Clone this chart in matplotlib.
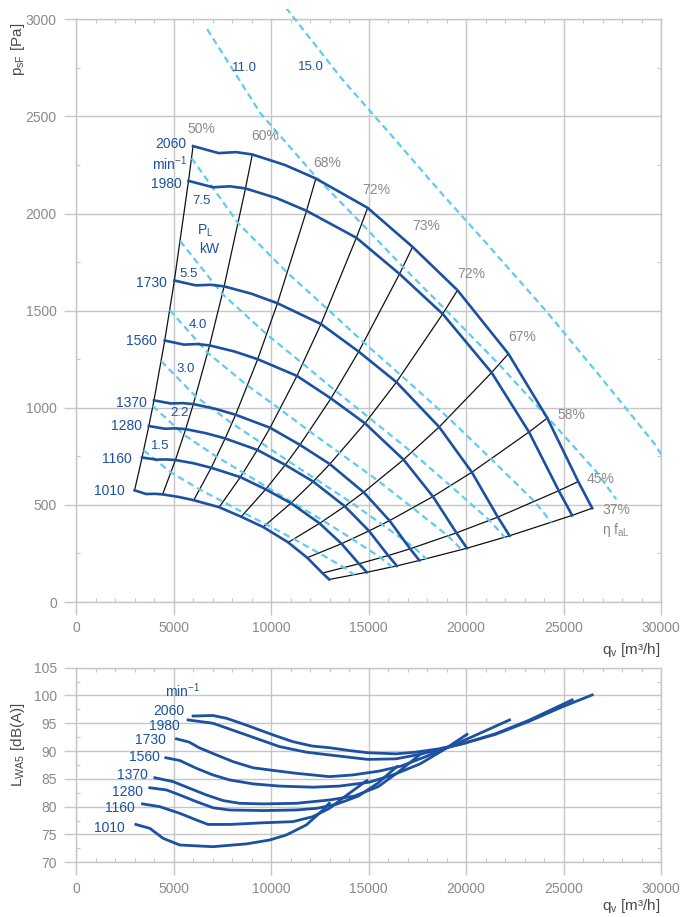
import matplotlib.pyplot as plt
from matplotlib.patches import Rectangle
from matplotlib.ticker import MultipleLocator

plt.rcParams['font.family'] = ['Liberation Sans', 'DejaVu Sans']
plt.rcParams['mathtext.fontset'] = 'custom'
plt.rcParams['mathtext.rm'] = 'Liberation Sans'
plt.rcParams['mathtext.it'] = 'Liberation Sans:italic'

# ---------------- data: fan curves (q in m3/h, p in Pa) ----------------
speeds = [2060, 1980, 1730, 1560, 1370, 1280, 1160, 1010]

q_2060 = [5990, 7300, 8200, 9030, 10700, 12290, 14950, 17254, 19558, 22170, 24166, 25754, 26470]
p_2060 = [2347, 2311, 2316, 2304, 2250, 2180, 2029, 1828, 1605, 1278, 947, 620, 483]
q_1980 = [5757, 7017, 7882, 8679, 10285, 11813, 14370, 16584, 18799, 21309, 23228, 24754, 25442]
p_1980 = [2168, 2135, 2140, 2129, 2079, 2014, 1875, 1689, 1483, 1181, 875, 573, 446]
q_1730 = [5031, 6131, 6886, 7584, 8986, 10321, 12555, 14490, 16425, 18619, 20295, 21629, 22230]
p_1730 = [1655, 1630, 1633, 1625, 1587, 1538, 1431, 1289, 1132, 901, 668, 437, 341]
q_1560 = [4536, 5528, 6210, 6838, 8103, 9307, 11321, 13066, 14811, 16789, 18300, 19503, 20045]
p_1560 = [1346, 1325, 1328, 1321, 1290, 1250, 1164, 1048, 920, 733, 543, 356, 277]
q_1370 = [3984, 4855, 5453, 6005, 7116, 8174, 9943, 11475, 13007, 14744, 16072, 17128, 17604]
p_1370 = [1038, 1022, 1024, 1019, 995, 964, 897, 809, 710, 565, 419, 274, 214]
q_1280 = [3722, 4536, 5095, 5611, 6649, 7637, 9289, 10721, 12153, 13776, 15016, 16003, 16447]
p_1280 = [906, 892, 894, 890, 869, 842, 783, 706, 620, 493, 366, 239, 186]
q_1160 = [3373, 4111, 4618, 5085, 6025, 6921, 8419, 9716, 11013, 12484, 13608, 14502, 14906]
p_1160 = [744, 733, 734, 731, 714, 691, 643, 580, 509, 405, 300, 197, 153]
q_1010 = [2990, 3579, 4020, 4427, 5246, 6026, 7330, 8460, 9589, 10870, 11848, 12627, 12978]
p_1010 = [575, 556, 557, 554, 541, 524, 488, 439, 386, 307, 228, 149, 116]

curves_q = [q_2060, q_1980, q_1730, q_1560, q_1370, q_1280, q_1160, q_1010]
curves_p = [p_2060, p_1980, p_1730, p_1560, p_1370, p_1280, p_1160, p_1010]

# points of the speed curves that lie on the efficiency lines
eff_idx = [0, 3, 5, 6, 7, 8, 9, 10, 11, 12]
eff_labels = ['50%', '60%', '68%', '72%', '73%', '72%', '67%', '58%', '45%', '37%']
eff_label_q = [6420, 9713, 12887, 15380, 17940, 20244, 22856, 25416, 26900, 27700]
eff_label_p = [2437, 2397, 2258, 2119, 1935, 1691, 1365, 964, 633, 474]

# iso-power lines P_L [kW]
pq_1_5 = [3456, 4858, 6337, 7538, 8627, 9750, 11165, 12453, 13750, 14257]
pp_1_5 = [781, 667, 579, 516, 457, 399, 324, 252, 177, 140]
pq_2_2 = [3927, 5520, 7199, 8565, 9802, 11072, 12679, 14149, 15622, 16200]
pp_2_2 = [1009, 861, 748, 666, 590, 514, 418, 325, 228, 181]
pq_3_0 = [4354, 6121, 7983, 9497, 10870, 12283, 14067, 15691, 17325, 17963]
pp_3_0 = [1240, 1059, 920, 819, 726, 633, 515, 399, 281, 222]
pq_4_0 = [4793, 6737, 8787, 10455, 11966, 13522, 15486, 17269, 19068, 19771]
pp_4_0 = [1503, 1283, 1114, 992, 879, 767, 624, 484, 340, 269]
pq_5_5 = [5329, 7491, 9771, 11623, 13303, 15032, 17215, 19202, 21204, 21986]
pp_5_5 = [1858, 1586, 1378, 1227, 1087, 948, 771, 598, 420, 333]
pq_7_5 = [5910, 8308, 10835, 12890, 14752, 16671, 19091, 21295, 23513, 24381]
pp_7_5 = [2285, 1950, 1694, 1508, 1336, 1166, 948, 735, 517, 410]
pq_11 = [6714, 9439, 12311, 14645, 16761, 18941, 21690, 24195, 26715, 27701]
pp_11 = [2949, 2517, 2187, 1947, 1725, 1505, 1223, 949, 667, 529]
pq_15 = [7446, 10468, 13652, 16240, 18587, 21004, 24052, 26831, 29625, 30718]
pp_15 = [3627, 3096, 2690, 2394, 2121, 1851, 1504, 1167, 820, 651]

power_q = [pq_1_5, pq_2_2, pq_3_0, pq_4_0, pq_5_5, pq_7_5, pq_11, pq_15]
power_p = [pp_1_5, pp_2_2, pp_3_0, pp_4_0, pp_5_5, pp_7_5, pp_11, pp_15]
power_labels = ['1.5', '2.2', '3.0', '4.0', '5.5', '7.5', '11.0', '15.0']
power_label_q = [4285, 5274, 5617, 6246, 5770, 6420, 8637, 12050]
power_label_p = [801, 973, 1201, 1428, 1691, 2064, 2751, 2754]

speed_label_q = [5652, 5396, 4659, 4147, 3635, 3348, 2836, 2509]
speed_label_p = [2359, 2150, 1643, 1342, 1024, 904, 737, 574]

# ---------------- data: sound power L_WA5 [dB(A)] ----------------
lq_2060 = [5990, 7000, 7700, 8700, 10100, 11100, 12100, 13000, 14000, 14950, 16400, 17400, 18600, 19800, 21500, 23200, 24900, 26470]
lw_2060 = [96.3, 96.4, 95.9, 94.7, 92.9, 91.7, 90.9, 90.6, 90.1, 89.7, 89.5, 89.8, 90.4, 91.3, 93.0, 95.3, 97.9, 100.1]
lq_1980 = [5734, 7014, 8724, 10429, 11796, 12989, 14950, 16400, 17600, 18800, 19800, 21500, 23200, 25442]
lw_1980 = [95.6, 95.0, 92.9, 90.8, 89.8, 89.3, 88.5, 88.6, 89.4, 90.4, 91.3, 93.1, 95.5, 99.2]
lq_1730 = [5140, 5800, 6300, 7190, 8040, 9060, 9920, 11280, 12990, 14180, 15550, 16670, 18000, 19560, 20900, 22230]
lw_1730 = [92.2, 91.6, 90.6, 89.3, 88.1, 87.0, 86.6, 86.0, 85.4, 85.7, 86.4, 87.3, 89.1, 91.4, 93.5, 95.6]
lq_1560 = [4593, 5310, 6164, 7014, 7869, 9062, 10429, 12134, 13500, 15030, 16240, 17640, 18840, 20045]
lw_1560 = [88.8, 88.3, 86.9, 85.7, 84.8, 84.1, 83.7, 83.5, 83.7, 84.4, 85.7, 87.7, 90.2, 93.0]
lq_1370 = [4029, 4966, 5821, 6676, 7526, 8381, 9574, 11284, 12989, 14260, 15490, 16550, 17604]
lw_1370 = [85.2, 84.5, 83.3, 82.1, 81.1, 80.6, 80.5, 80.6, 81.2, 81.9, 83.6, 86.3, 89.3]
lq_1280 = [3773, 4628, 5310, 6164, 7014, 7869, 9574, 11284, 12335, 13320, 14470, 15460, 16447]
lw_1280 = [83.4, 83.0, 82.1, 80.9, 79.8, 79.4, 79.3, 79.4, 79.7, 80.4, 81.9, 84.2, 87.2]
lq_1160 = [3397, 4285, 5310, 6164, 6761, 7869, 9574, 11110, 12134, 12989, 13850, 14906]
lw_1160 = [80.5, 80.0, 78.8, 77.6, 76.8, 76.8, 77.1, 77.3, 78.2, 79.7, 82.0, 84.7]
lq_1010 = [3057, 3773, 4454, 5310, 7014, 8724, 9917, 10770, 11796, 12500, 12978]
lw_1010 = [76.8, 76.1, 74.3, 73.1, 72.8, 73.3, 74.0, 74.9, 76.7, 78.9, 80.6]

sound_q = [lq_2060, lq_1980, lq_1730, lq_1560, lq_1370, lq_1280, lq_1160, lq_1010]
sound_l = [lw_2060, lw_1980, lw_1730, lw_1560, lw_1370, lw_1280, lw_1160, lw_1010]
sound_label_q = [5565, 5309, 4577, 4285, 3686, 3430, 3005, 2493]
sound_label_l = [97.2, 94.5, 91.9, 88.9, 85.7, 82.6, 79.7, 76.1]

# ---------------- styling ----------------
BLUE = '#1b51a0'
LBLUE = '#5fcbf0'
GRID = '#c6c6c6'
TICK = '#8a8a8a'
LABEL = '#4a4a4a'


def style_axes(ax, ymajor, yminor):
    ax.set_xlim(0, 30000)
    ax.xaxis.set_major_locator(MultipleLocator(5000))
    ax.xaxis.set_minor_locator(MultipleLocator(1000))
    ax.yaxis.set_major_locator(MultipleLocator(ymajor))
    ax.yaxis.set_minor_locator(MultipleLocator(yminor))
    ax.grid(True, which='major', color=GRID, lw=1.0, zorder=0)
    ax.set_axisbelow(True)
    for s in ax.spines.values():
        s.set_color(GRID)
        s.set_linewidth(1.0)
    ax.tick_params(which='major', direction='out', length=9, width=1.0,
                   color=GRID, labelcolor=TICK, labelsize=10, pad=5)
    ax.tick_params(which='minor', direction='in', length=3, width=0.8,
                   color=GRID, top=True, right=True)


fig = plt.figure(figsize=(6.82, 9.17), dpi=100)

# ---------------- top chart ----------------
ax1 = fig.add_axes([0.1119, 0.3435, 0.8573, 0.6355])
style_axes(ax1, 500, 250)
ax1.set_ylim(0, 3000)

clip = Rectangle((0, 0), 1, 1.018, transform=ax1.transAxes)

# efficiency lines
for k, idx in enumerate(eff_idx):
    qs = [cq[idx] for cq in curves_q]
    ps = [cp[idx] for cp in curves_p]
    ax1.plot(qs, ps, color='#111111', lw=0.9, zorder=2)

# iso-power lines
for pq, pp in zip(power_q, power_p):
    ln, = ax1.plot(pq, pp, color=LBLUE, lw=1.6, ls=(0, (3.0, 1.9)),
                   zorder=3, clip_on=True)
    ln.set_clip_path(clip)

# speed curves
for cq, cp in zip(curves_q, curves_p):
    ax1.plot(cq, cp, color=BLUE, lw=1.9, zorder=4, solid_joinstyle='round')

for s, x, y in zip(speeds, speed_label_q, speed_label_p):
    ax1.text(x, y, str(s), color=BLUE, fontsize=10, ha='right', va='center')
ax1.text(4797, 2256, 'min$^{-1}$', color=BLUE, fontsize=10, ha='center', va='center')

for t, x, y in zip(eff_labels, eff_label_q, eff_label_p):
    ax1.text(x, y, t, color=TICK, fontsize=10, ha='center', va='center')
ax1.text(27668, 371, r'η f$_{\mathrm{aL}}$', color=TICK, fontsize=10, ha='center', va='center')

for t, x, y in zip(power_labels, power_label_q, power_label_p):
    ax1.text(x, y, t, color=BLUE, fontsize=9.5, ha='center', va='center')
ax1.text(6589, 1909, r'P$_{\mathrm{L}}$', color=BLUE, fontsize=10, ha='center', va='center')
ax1.text(6810, 1815, 'kW', color=BLUE, fontsize=10, ha='center', va='center')

fig.text(0.026, 0.946, r'p$_{\mathrm{sF}}$ [Pa]', rotation=90, color=LABEL,
         fontsize=11, ha='center', va='center')
fig.text(0.968, 0.2912, r'q$_{\mathrm{v}}$ [m³/h]', color=LABEL,
         fontsize=11, ha='right', va='center')

# ---------------- bottom chart ----------------
ax2 = fig.add_axes([0.1119, 0.0597, 0.8573, 0.2122])
style_axes(ax2, 5, 2.5)
ax2.set_ylim(70, 105)

for lq, ll in zip(sound_q, sound_l):
    ax2.plot(lq, ll, color=BLUE, lw=2.0, zorder=3, solid_joinstyle='round')

for s, x, y in zip(speeds, sound_label_q, sound_label_l):
    ax2.text(x, y, str(s), color=BLUE, fontsize=10, ha='right', va='center')
ax2.text(5448, 100.9, 'min$^{-1}$', color=BLUE, fontsize=10, ha='center', va='center')

fig.text(0.026, 0.1876, r'L$_{\mathrm{WA5}}$ [dB(A)]', rotation=90, color=LABEL,
         fontsize=11, ha='center', va='center')
fig.text(0.968, 0.012, r'q$_{\mathrm{v}}$ [m³/h]', color=LABEL,
         fontsize=11, ha='right', va='center')

fig.savefig('out.png', dpi=100)
